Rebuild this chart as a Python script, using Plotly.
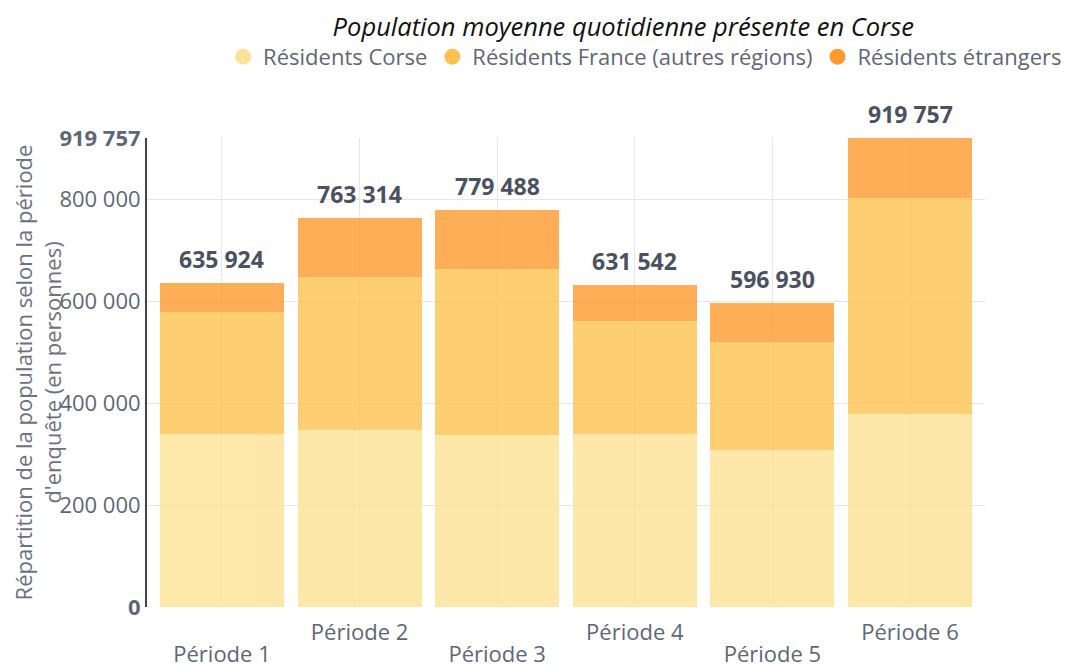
import plotly.graph_objects as go

categories = ["Période 1", "Période 2", "Période 3", "Période 4", "Période 5", "Période 6"]
residents_corse = [340000, 348000, 338000, 340000, 308000, 379000]
residents_france = [238000, 300000, 325000, 220000, 211000, 423000]
residents_etrangers = [57924, 115314, 116488, 71542, 77930, 117757]
series_names = ["Résidents Corse", "Résidents France (autres régions)", "Résidents étrangers"]
colors = ["#FDE395", "#FDC24F", "#FD9A2C"]
y_tickvals = [0, 200000, 400000, 600000, 800000, 919757]
y_ticktext = ["<b>0</b>", "200 000", "400 000", "600 000", "800 000", "<b>919 757</b>"]
x_ticktext = ["<br>Période 1", "Période 2", "<br>Période 3", "Période 4", "<br>Période 5", "Période 6"]

totals = [a + b + c for a, b, c in zip(residents_corse, residents_france, residents_etrangers)]

def fmt(v):
    return f"{v:,}".replace(",", " ")

fig = go.Figure()
for name, vals, col in zip(series_names, [residents_corse, residents_france, residents_etrangers], colors):
    fig.add_trace(go.Bar(x=categories, y=vals, name=name, marker=dict(color=col, line=dict(width=0)),
                         opacity=0.8, showlegend=False))
for name, col in zip(series_names, colors):
    fig.add_trace(go.Scatter(x=[None], y=[None], mode="markers", name=name,
                             marker=dict(color=col, size=16, symbol="circle")))

for cat, t in zip(categories, totals):
    fig.add_annotation(x=cat, y=t, text=f"<b>{fmt(t)}</b>", showarrow=False, yanchor="bottom",
                       yshift=6, font=dict(family="Open Sans", size=23, color="#4a5161"))

x_ticktext_styled = []
for t in x_ticktext:
    parts = t.split("<br>")
    parts[-1] = f"<span style='font-size:22px'>{parts[-1]}</span>"
    x_ticktext_styled.append("<br>".join(parts))

fig.update_layout(
    width=1070, height=664,
    barmode="stack", bargap=0.1,
    plot_bgcolor="white", paper_bgcolor="white",
    font=dict(family="Open Sans", size=22, color="#5f6776"),
    margin=dict(l=139, r=93, t=130, b=65, autoexpand=False),
    title=dict(text="<i>Population moyenne quotidienne présente en Corse</i>", x=0.575, xanchor="center",
               y=0.972, yanchor="middle", font=dict(family="Open Sans", size=25.5, color="#111111")),
    legend=dict(orientation="h", x=1.098, xanchor="right", y=1.173, yanchor="middle",
                traceorder="normal",
                font=dict(family="Open Sans", size=22, color="#5f6776"), itemsizing="trace",
                itemwidth=30, tracegroupgap=0),
    xaxis=dict(type="category", range=[-0.545, 5.545], tickvals=categories, ticktext=x_ticktext_styled,
               tickfont=dict(family="Open Sans", size=17, color="#5f6776"),
               showgrid=True, gridcolor="#e6e6e6", showline=False, ticks="", tickangle=0,
               zeroline=False, automargin=False, ticklabelstandoff=15),
    yaxis=dict(range=[0, 919757], tickvals=y_tickvals, ticktext=y_ticktext, showgrid=True,
               gridcolor="#e6e6e6", showline=True, linecolor="#444444", linewidth=2, ticks="",
               zeroline=False, automargin=False,
               title=dict(text="Répartition de la population selon la période<br>d'enquête (en personnes)",
                          font=dict(family="Open Sans", size=22, color="#6a7280"))),
)
fig.write_html("out.html")
